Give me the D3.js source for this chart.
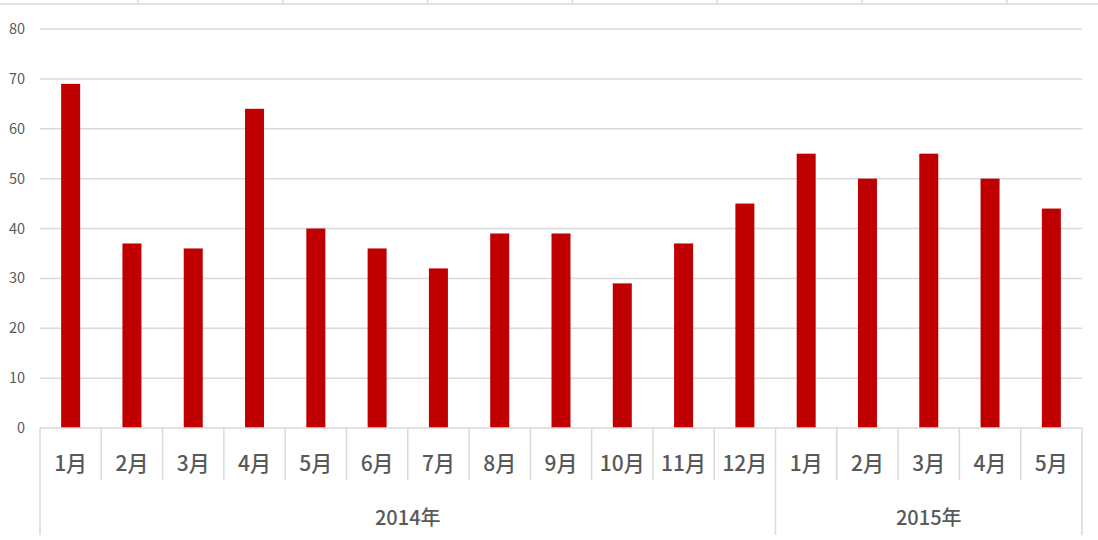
<!DOCTYPE html>
<html>
<head>
<meta charset="utf-8">
<script src="https://cdn.jsdelivr.net/npm/d3@7"></script>
<style>
  body { margin: 0; background: #fff; }
  svg { display: block; font-family: "Noto Sans CJK SC", "Open Sans", sans-serif; }
  .ytick { font-size: 14.5px; fill: #595959; }
  .month { font-size: 21px; fill: #595959; font-weight: 500; }
  .year { font-size: 20px; fill: #595959; font-weight: 500; }
</style>
</head>
<body>
<div id="chart"></div>
<script>
var months = ["1月","2月","3月","4月","5月","6月","7月","8月","9月","10月","11月","12月","1月","2月","3月","4月","5月"];
var years = ["2014年", "2015年"];
var yearCounts = [12, 5];
var values = [69, 37, 36, 64, 40, 36, 32, 39, 39, 29, 37, 45, 55, 50, 55, 50, 44];
var yTicks = [0, 10, 20, 30, 40, 50, 60, 70, 80];

var width = 1098, height = 540;
var mLeft = 40, mRight = 1082, mTop = 29, mBottom = 428;

var svg = d3.select("#chart").append("svg")
    .attr("width", width)
    .attr("height", height);

var keys = months.map((m, i) => i);

var x = d3.scaleBand()
    .domain(keys)
    .range([mLeft, mRight])
    .paddingInner(0.69)
    .paddingOuter(0.345);

var xb = d3.scaleBand()
    .domain(keys)
    .range([mLeft, mRight]);

var y = d3.scaleLinear()
    .domain([0, 80])
    .range([mBottom, mTop]);

// bit of the chart above, cut off at the top edge
var topTicks = d3.range(7).map(i => 138 + i * 144.8);
svg.append("line")
    .attr("x1", 0).attr("x2", width)
    .attr("y1", 4).attr("y2", 4)
    .style("stroke", "#d9d9d9").style("stroke-width", 1.5);
svg.append("g").selectAll("line")
    .data(topTicks)
    .join("line")
    .attr("x1", d => d).attr("x2", d => d)
    .attr("y1", 0).attr("y2", 4)
    .style("stroke", "#d9d9d9").style("stroke-width", 1.5);

// gridlines
svg.append("g").selectAll("line")
    .data(yTicks.filter(d => d > 0))
    .join("line")
    .attr("x1", mLeft).attr("x2", mRight)
    .attr("y1", d => y(d)).attr("y2", d => y(d))
    .style("stroke", "#d9d9d9").style("stroke-width", 1.5);

// y labels
svg.append("g").selectAll("text")
    .data(yTicks)
    .join("text")
    .attr("class", "ytick")
    .attr("x", 25)
    .attr("y", d => y(d))
    .attr("dy", "0.35em")
    .attr("text-anchor", "end")
    .text(d => d);

// bars
svg.append("g").selectAll("rect")
    .data(values)
    .join("rect")
    .attr("x", (d, i) => x(i))
    .attr("y", d => y(d))
    .attr("width", x.bandwidth())
    .attr("height", d => y(0) - y(d))
    .attr("fill", "#c00000");

// axis line
svg.append("line")
    .attr("x1", mLeft).attr("x2", mRight)
    .attr("y1", mBottom).attr("y2", mBottom)
    .style("stroke", "#d9d9d9").style("stroke-width", 1.5);

// category separators
var yearStarts = [0, yearCounts[0], yearCounts[0] + yearCounts[1]];
var edges = d3.range(months.length + 1);
svg.append("g").selectAll("line")
    .data(edges)
    .join("line")
    .attr("x1", d => d < months.length ? xb(d) : mRight)
    .attr("x2", d => d < months.length ? xb(d) : mRight)
    .attr("y1", mBottom)
    .attr("y2", d => yearStarts.indexOf(d) >= 0 ? 535 : 480)
    .style("stroke", "#d9d9d9").style("stroke-width", 1.5);

// month labels
svg.append("g").selectAll("text")
    .data(months)
    .join("text")
    .attr("class", "month")
    .attr("x", (d, i) => xb(i) + xb.bandwidth() / 2)
    .attr("y", 471)
    .attr("text-anchor", "middle")
    .text(d => d);

// year labels
svg.append("g").selectAll("text")
    .data(years)
    .join("text")
    .attr("class", "year")
    .attr("x", (d, i) => {
        var a = xb(yearStarts[i]);
        var b = yearStarts[i + 1] < months.length ? xb(yearStarts[i + 1]) : mRight;
        return (a + b) / 2;
    })
    .attr("y", 525)
    .attr("text-anchor", "middle")
    .text(d => d);
</script>
</body>
</html>
